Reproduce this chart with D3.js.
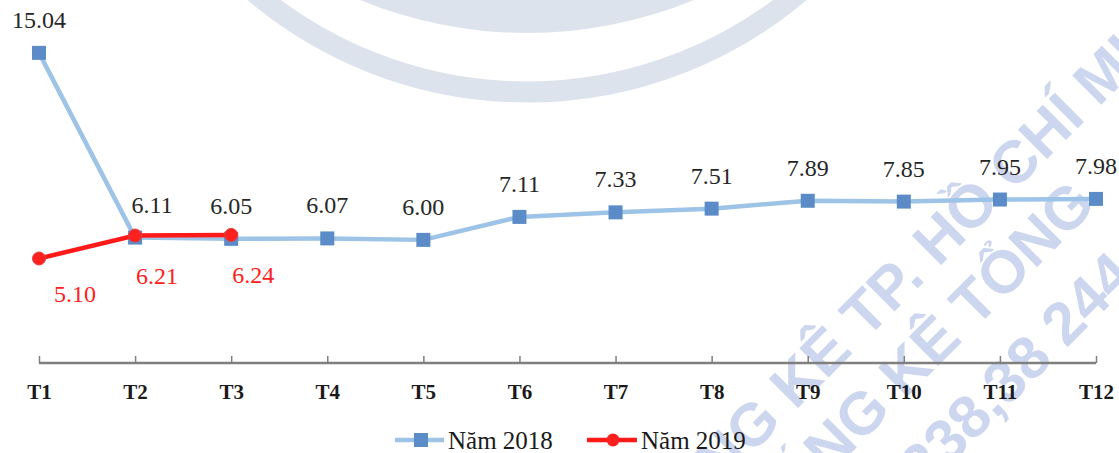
<!DOCTYPE html>
<html>
<head>
<meta charset="utf-8">
<script src="https://cdn.jsdelivr.net/npm/d3@7"></script>
<style>
  body { margin: 0; background: #fff; }
  svg { display: block; }
  .serif { font-family: "Liberation Serif", "Tinos", "Times New Roman", "DejaVu Serif", "Noto Serif", serif; }
</style>
</head>
<body>
<div class="chart"></div>
<script>
// monthly values
var months = ["T1", "T2", "T3", "T4", "T5", "T6", "T7", "T8", "T9", "T10", "T11", "T12"];
var values2018 = [15.04, 6.11, 6.05, 6.07, 6.00, 7.11, 7.33, 7.51, 7.89, 7.85, 7.95, 7.98];
var values2019 = [5.10, 6.21, 6.24];
var seriesNames = ["Năm 2018", "Năm 2019"];
var watermarkLines = ["CỤC THỐNG KÊ TP. HỒ CHÍ MINH", "TỔNG CỤC THỐNG KÊ TỔNG", "ĐT: 028.38 238,38 244"];

var width = 1119, height = 453;

var svg = d3.select(".chart").append("svg")
    .attr("width", width)
    .attr("height", height);

// faint watermark behind the chart
var wm = svg.append("g").attr("class", "watermark");
wm.append("circle")
    .attr("cx", 527).attr("cy", -330).attr("r", 422)
    .attr("fill", "none").attr("stroke", "#dde3ed").attr("stroke-width", 21);
wm.append("circle")
    .attr("cx", 527).attr("cy", -406).attr("r", 439)
    .attr("fill", "#dde3ed");
var wmPos = [[512, 665], [487, 788], [691, 695]];
wm.selectAll("text.wm")
    .data(watermarkLines)
    .enter().append("text")
    .attr("class", "wm")
    .attr("transform", function (d, i) { return "translate(" + wmPos[i][0] + "," + wmPos[i][1] + ") rotate(-45)"; })
    .attr("dominant-baseline", "central")
    .style("font-family", "'Liberation Sans', Arial, sans-serif")
    .style("font-weight", "bold")
    .style("font-size", "60px")
    .attr("fill", "#cdd6ef")
    .text(function (d) { return d; });

var x = d3.scalePoint()
    .domain(months)
    .range([39, 1096]);

var y = d3.scaleLinear()
    .domain([0, 16])
    .range([364, 33]);

// x axis, ticks pointing up
var axis = svg.append("g")
    .attr("transform", "translate(0," + 363 + ")")
    .call(d3.axisBottom(x).tickSizeInner(-7).tickSizeOuter(0).tickPadding(0));
axis.attr("font-family", null);
axis.select(".domain")
    .attr("stroke", "#7f7f7f").attr("stroke-width", 2.5)
    .attr("d", "M" + x("T1") + ",0H" + x("T12"));
axis.selectAll(".tick line").attr("stroke", "#7f7f7f").attr("stroke-width", 1.5);
axis.selectAll(".tick text")
    .attr("class", "serif")
    .attr("y", 36)
    .attr("dy", null)
    .attr("fill", "#1a1a1a")
    .style("font-weight", "bold")
    .style("font-size", "21px");

var line = d3.line()
    .x(function (d, i) { return x(months[i]); })
    .y(function (d) { return y(d); });

svg.append("path")
    .datum(values2018)
    .attr("d", line)
    .attr("fill", "none")
    .attr("stroke", "#9dc3e6")
    .attr("stroke-width", 4.5)
    .attr("stroke-linejoin", "round");

svg.selectAll("rect.m2018")
    .data(values2018)
    .enter().append("rect")
    .attr("class", "m2018")
    .attr("x", function (d, i) { return x(months[i]) - 7; })
    .attr("y", function (d) { return y(d) - 7; })
    .attr("width", 14).attr("height", 14)
    .attr("fill", "#5b8cc8");

svg.append("path")
    .datum(values2019)
    .attr("d", line)
    .attr("fill", "none")
    .attr("stroke", "#ff1a1a")
    .attr("stroke-width", 4.5);

svg.selectAll("circle.m2019")
    .data(values2019)
    .enter().append("circle")
    .attr("class", "m2019")
    .attr("cx", function (d, i) { return x(months[i]); })
    .attr("cy", function (d) { return y(d); })
    .attr("r", 6.5)
    .attr("fill", "#ff2020")
    .attr("stroke", "#e04040")
    .attr("stroke-width", 1);

// value labels
svg.selectAll("text.l2018")
    .data(values2018)
    .enter().append("text")
    .attr("class", "l2018 serif")
    .attr("x", function (d, i) { return x(months[i]) + (i === 1 ? 17 : 0); })
    .attr("y", function (d) { return y(d) - 25; })
    .attr("text-anchor", "middle")
    .attr("fill", "#262626")
    .style("font-size", "24px")
    .text(function (d) { return d.toFixed(2); });

svg.selectAll("text.l2019")
    .data(values2019)
    .enter().append("text")
    .attr("class", "l2019 serif")
    .attr("x", function (d, i) { return x(months[i]) + (i === 0 ? 36 : 22); })
    .attr("y", function (d, i) { return y(d) + (i === 0 ? 44 : 48); })
    .attr("text-anchor", "middle")
    .attr("fill", "#ff2020")
    .style("font-size", "24px")
    .text(function (d) { return d.toFixed(2); });

// legend
var legend = svg.append("g");
var lg1 = legend.append("g").attr("transform", "translate(395,440)");
lg1.append("line").attr("x1", 0).attr("x2", 49).attr("stroke", "#9dc3e6").attr("stroke-width", 4.5);
lg1.append("rect").attr("x", 19).attr("y", -7).attr("width", 14).attr("height", 14).attr("fill", "#5b8cc8");
lg1.append("text").attr("class", "serif").attr("x", 53).attr("y", 9)
    .style("font-size", "25px").attr("fill", "#1a1a1a")
    .text(seriesNames[0]);

var lg2 = legend.append("g").attr("transform", "translate(587,440)");
lg2.append("line").attr("x1", 0).attr("x2", 50).attr("stroke", "#ff1a1a").attr("stroke-width", 4.5);
lg2.append("circle").attr("cx", 26).attr("cy", 0).attr("r", 6.5).attr("fill", "#ff2020");
lg2.append("text").attr("class", "serif").attr("x", 54).attr("y", 9)
    .style("font-size", "25px").attr("fill", "#1a1a1a")
    .text(seriesNames[1]);
</script>
</body>
</html>
